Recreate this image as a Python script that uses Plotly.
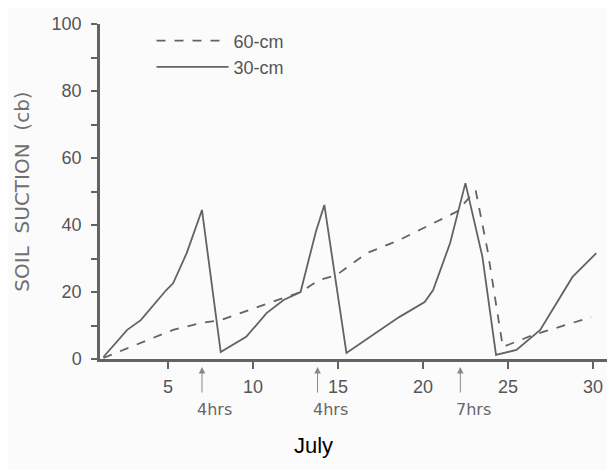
import plotly.graph_objects as go

# 30-cm depth (solid)
day_30 = [1.2, 2.6, 3.4, 4.9, 5.3, 6.1, 7.0, 8.1, 9.6, 10.8, 11.8, 12.8, 13.7, 14.2,
          15.5, 17.5, 18.6, 20.1, 20.6, 21.6, 22.5, 23.5, 24.3, 25.5, 26.9, 28.8, 30.2]
suction_30 = [0.6, 8.7, 11.6, 20.6, 22.6, 31.6, 44.5, 2.1, 6.6, 13.7, 17.6, 20.0, 38.0, 46.0,
              1.8, 8.7, 12.5, 17.0, 20.6, 34.6, 52.5, 30.5, 1.2, 2.7, 8.7, 24.5, 31.6]

# 60-cm depth (dashed)
day_60 = [1.2, 5.3, 6.9, 8.1, 12.8, 13.9, 14.9, 16.7, 18.6, 22.0, 23.1, 23.8, 24.7, 26.5, 29.9]
suction_60 = [0.3, 8.7, 10.7, 11.6, 20.0, 23.6, 25.0, 31.6, 35.5, 44.0, 50.4, 32.5, 3.6, 7.2, 12.5]

irrigation_days = [7.0, 13.8, 22.2]
irrigation_labels = ["4hrs", "4hrs", "7hrs"]

x_ticks = [5, 10, 15, 20, 25, 30]
y_ticks = [0, 20, 40, 60, 80, 100]

INK = "#636363"
FONT = "Liberation Sans"

fig = go.Figure()
fig.add_trace(go.Scatter(x=day_60, y=suction_60, mode="lines", name="60-cm",
                         line=dict(color=INK, width=1.8, dash="dash")))
fig.add_trace(go.Scatter(x=day_30, y=suction_30, mode="lines", name="30-cm",
                         line=dict(color=INK, width=1.8)))

for d, lab in zip(irrigation_days, irrigation_labels):
    fig.add_annotation(x=d, y=-0.024, xref="x", yref="paper", text="", showarrow=True,
                       ax=0, ay=27, arrowhead=2, arrowsize=1.3, arrowwidth=1, arrowcolor="#888")
    fig.add_annotation(x=d, y=-0.152, xref="x", yref="paper", yanchor="middle",
                       text=lab, showarrow=False,
                       xshift=13, font=dict(family="DejaVu Sans", size=16, color="#666"))

fig.add_annotation(x=0.414, y=-0.257, xref="paper", yref="paper", yanchor="middle",
                   text="July", showarrow=False,
                   font=dict(family="Liberation Sans", size=22, color="#000"))

fig.update_layout(
    width=615, height=470,
    margin=dict(l=92, r=8, t=16, b=119),
    paper_bgcolor="#fcfbfb", plot_bgcolor="#fcfbfb",
    showlegend=True,
    legend=dict(x=0.1, y=1.005, xanchor="left", yanchor="top", bgcolor="rgba(0,0,0,0)",
                itemwidth=72, tracegroupgap=0,
                font=dict(family=FONT, size=18, color="#555")),
    xaxis=dict(range=[1, 31.3], tickvals=x_ticks, ticktext=[str(v) for v in x_ticks],
               automargin=False,
               showgrid=False, zeroline=False, showline=True, linecolor=INK, linewidth=2.5,
               ticks="outside", ticklen=7, tickwidth=2, tickcolor=INK,
               ticklabelstandoff=3,
               tickfont=dict(family=FONT, size=18, color="#555")),
    yaxis=dict(range=[0, 100], tickvals=list(range(0, 101, 10)),
               ticktext=[str(v) if v % 20 == 0 else "" for v in range(0, 101, 10)],
               automargin=False,
               showgrid=False, zeroline=False, showline=True, linecolor=INK, linewidth=2.5,
               ticks="outside", ticklen=6, tickwidth=2, tickcolor=INK,
               ticklabelstandoff=6,
               tickfont=dict(family=FONT, size=18, color="#555")),
)
fig.update_yaxes(title=dict(text="SOIL&nbsp; SUCTION&nbsp; (cb)", standoff=17,
                            font=dict(family="DejaVu Sans", size=20, color="#707070")))

fig.write_html("out.html")
